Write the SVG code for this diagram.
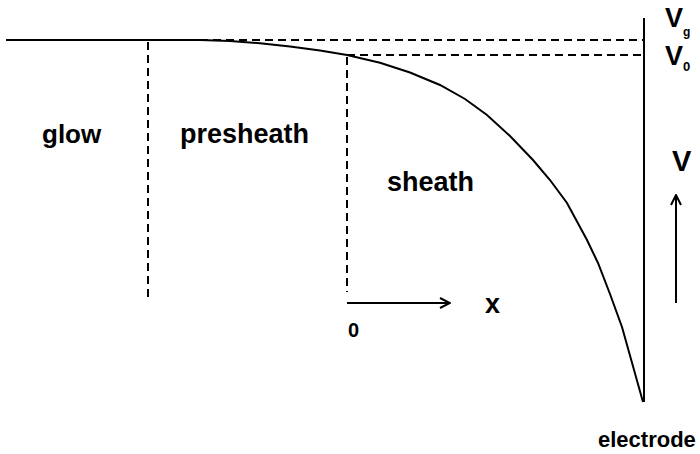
<svg xmlns="http://www.w3.org/2000/svg" width="700" height="454" viewBox="0 0 700 454">
<style>
.t{font-family:"Liberation Sans",Arial,sans-serif;font-weight:bold;fill:#000}
.s{fill:none;stroke:#000;stroke-width:2}
.d{fill:none;stroke:#000;stroke-width:2;stroke-dasharray:8,5}
</style>
<defs>
<marker id="ah" viewBox="0 0 12 12" refX="11" refY="6" markerWidth="12" markerHeight="12" markerUnits="userSpaceOnUse" orient="auto">
<path d="M1,1 L11,6 L1,11" fill="none" stroke="#000" stroke-width="2"/>
</marker>
</defs>
<rect width="700" height="454" fill="#fff"/>
<g id="connectors">
<path id="potential" class="s" d="M6,40 L200,40 L230,41 L260,43.3 L290,46.5 L320,50.5 L347,55 L380,62.8 L410,72.5 L440,85 L465,99 L487,115 L510,136 L533,160 L550,180 L567,203 L587,240 L598,263 L610,294 L622,327 L643,402"/>
<line class="d" x1="200" y1="40" x2="644" y2="40"/>
<line class="d" x1="347" y1="55" x2="644" y2="55"/>
<line class="d" x1="148" y1="42" x2="148" y2="298"/>
<line class="d" x1="347" y1="57" x2="347" y2="292"/>
<line class="s" x1="347" y1="303" x2="450" y2="303" marker-end="url(#ah)"/>
<line class="s" x1="676" y1="303" x2="676" y2="195" marker-end="url(#ah)"/>
</g>
<g id="electrode">
<line class="s" x1="644" y1="18" x2="644" y2="402"/>
<text class="t" x="598" y="447" font-size="22">electrode</text>
</g>
<g id="glow"><text class="t" x="42" y="143" font-size="26">glow</text></g>
<g id="presheath"><text class="t" x="180" y="143" font-size="27">presheath</text></g>
<g id="sheath"><text class="t" x="387" y="191" font-size="27">sheath</text></g>
<g id="axis-x">
<text class="t" x="485" y="313" font-size="27">x</text>
<text class="t" x="348" y="337" font-size="20">0</text>
</g>
<g id="axis-v"><text class="t" x="672" y="171" font-size="29">V</text></g>
<g id="vg"><text class="t" x="665" y="27" font-size="27">V<tspan font-size="12" dy="9">g</tspan></text></g>
<g id="v0"><text class="t" x="665" y="65" font-size="27">V<tspan font-size="13" dy="6">0</tspan></text></g>
</svg>
